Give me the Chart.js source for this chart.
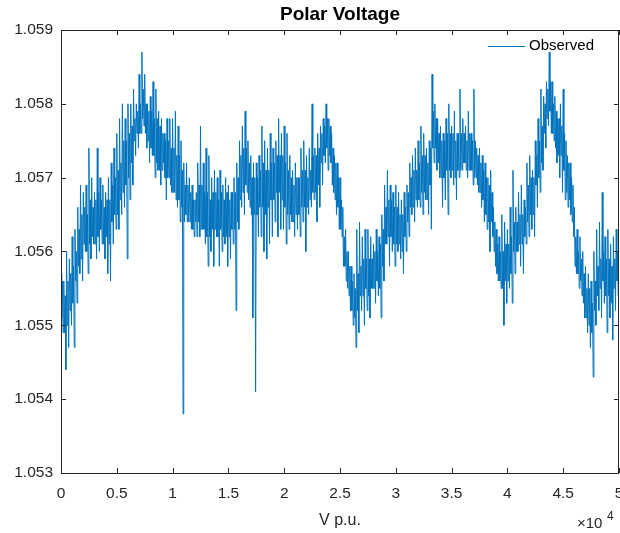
<!DOCTYPE html>
<html>
<head>
<meta charset="utf-8">
<script src="https://cdn.jsdelivr.net/npm/chart.js@4.4.1/dist/chart.umd.min.js"></script>
<style>
  html, body { margin: 0; padding: 0; background: #fff; }
  #wrap { width: 620px; height: 533px; }
</style>
</head>
<body>
<div id="wrap"><canvas id="voltChart" width="620" height="533"></canvas></div>
<script>
// ===== DATA =====
// one reading group every 250 samples: outer peak/trough and the dense inner band
const sampleStep = 250;
const xTicks = [0, 5000, 10000, 15000, 20000, 25000, 30000, 35000, 40000, 45000, 50000];
const yTicks = [1.053, 1.054, 1.055, 1.056, 1.057, 1.058, 1.059];

const upperV = [
  1.0557, 1.0556, 1.0560, 1.0559, 1.0562, 1.0563, 1.0566, 1.0569, 1.0568, 1.0569,
  1.0574, 1.0570, 1.0568, 1.0574, 1.0570, 1.0569, 1.0568, 1.0570, 1.0572, 1.0574,
  1.0576, 1.0578, 1.0580, 1.0578, 1.0580, 1.0580, 1.0582, 1.0580, 1.0584, 1.0587,
  1.0584, 1.0580, 1.0581, 1.0583, 1.0582, 1.0579, 1.0578, 1.0576, 1.0578, 1.0578,
  1.0578, 1.0579, 1.0577, 1.0575, 1.0572, 1.0572, 1.0570, 1.0569, 1.0567, 1.0572,
  1.0577, 1.0572, 1.0574, 1.0573, 1.0570, 1.0571, 1.0570, 1.0571, 1.0569, 1.0570,
  1.0569, 1.0568, 1.0570, 1.0572, 1.0575, 1.0577, 1.0579, 1.0575, 1.0573, 1.0572,
  1.0572, 1.0573, 1.0577, 1.0575, 1.0574, 1.0576, 1.0574, 1.0575, 1.0578, 1.0576,
  1.0577, 1.0576, 1.0573, 1.0571, 1.0572, 1.0570, 1.0574, 1.0575, 1.0573, 1.0574,
  1.0580, 1.0574, 1.0576, 1.0577, 1.0578, 1.0580, 1.0578, 1.0576, 1.0573, 1.0572,
  1.0570, 1.0566, 1.0563, 1.0560, 1.0558, 1.0557, 1.0563, 1.0564, 1.0562, 1.0563,
  1.0563, 1.0562, 1.0561, 1.0563, 1.0562, 1.0565, 1.0569, 1.0571, 1.0569, 1.0568,
  1.0569, 1.0568, 1.0567, 1.0568, 1.0569, 1.0572, 1.0573, 1.0574, 1.0575, 1.0577,
  1.0576, 1.0574, 1.0575, 1.0584, 1.0580, 1.0578, 1.0577, 1.0576, 1.0578, 1.0580,
  1.0577, 1.0579, 1.0576, 1.0582, 1.0578, 1.0577, 1.0579, 1.0576, 1.0582, 1.0574,
  1.0574, 1.0573, 1.0572, 1.0570, 1.0571, 1.0566, 1.0563, 1.0562, 1.0565, 1.0564,
  1.0563, 1.0566, 1.0571, 1.0566, 1.0568, 1.0569, 1.0567, 1.0572, 1.0573, 1.0571,
  1.0575, 1.0578, 1.0582, 1.0581, 1.0583, 1.0587, 1.0583, 1.0581, 1.0578, 1.0580,
  1.0582, 1.0575, 1.0572, 1.0570, 1.0566, 1.0563, 1.0562, 1.0560, 1.0558, 1.0557,
  1.0556, 1.0560, 1.0563, 1.0564, 1.0568, 1.0562, 1.0563, 1.0561, 1.0562, 1.0563,
  1.0560
];

const lowerV = [
  1.0549, 1.0544, 1.0547, 1.0550, 1.0547, 1.0553, 1.0557, 1.0556, 1.0560, 1.0557,
  1.0559, 1.0561, 1.0559, 1.0560, 1.0561, 1.0559, 1.0557, 1.0556, 1.0561, 1.0563,
  1.0563, 1.0565, 1.0566, 1.0559, 1.0567, 1.0569, 1.0573, 1.0574, 1.0576, 1.0577,
  1.0574, 1.0572, 1.0573, 1.0570, 1.0571, 1.0569, 1.0572, 1.0567, 1.0570, 1.0568,
  1.0568, 1.0566, 1.0564, 1.0538, 1.0565, 1.0564, 1.0563, 1.0562, 1.0562, 1.0562,
  1.0563, 1.0561, 1.0558, 1.0560, 1.0558, 1.0562, 1.0558, 1.0560, 1.0561, 1.0558,
  1.0559, 1.0561, 1.0552, 1.0563, 1.0566, 1.0565, 1.0568, 1.0566, 1.0551, 1.0541,
  1.0562, 1.0562, 1.0560, 1.0559, 1.0561, 1.0562, 1.0564, 1.0562, 1.0563, 1.0563,
  1.0561, 1.0563, 1.0564, 1.0562, 1.0563, 1.0562, 1.0564, 1.0560, 1.0565, 1.0566,
  1.0567, 1.0564, 1.0566, 1.0569, 1.0572, 1.0571, 1.0572, 1.0568, 1.0565, 1.0563,
  1.0562, 1.0558, 1.0555, 1.0552, 1.0550, 1.0547, 1.0549, 1.0552, 1.0550, 1.0552,
  1.0551, 1.0555, 1.0553, 1.0554, 1.0551, 1.0556, 1.0561, 1.0558, 1.0560, 1.0558,
  1.0560, 1.0559, 1.0557, 1.0560, 1.0562, 1.0565, 1.0564, 1.0566, 1.0566, 1.0565,
  1.0567, 1.0565, 1.0563, 1.0572, 1.0571, 1.0570, 1.0566, 1.0567, 1.0565, 1.0570,
  1.0569, 1.0567, 1.0570, 1.0571, 1.0572, 1.0570, 1.0571, 1.0569, 1.0570, 1.0568,
  1.0566, 1.0564, 1.0563, 1.0560, 1.0562, 1.0558, 1.0556, 1.0555, 1.0550, 1.0553,
  1.0555, 1.0553, 1.0557, 1.0560, 1.0558, 1.0557, 1.0561, 1.0562, 1.0563, 1.0562,
  1.0566, 1.0568, 1.0571, 1.0574, 1.0577, 1.0576, 1.0575, 1.0572, 1.0570, 1.0568,
  1.0567, 1.0566, 1.0565, 1.0562, 1.0557, 1.0555, 1.0554, 1.0551, 1.0549, 1.0547,
  1.0543, 1.0550, 1.0552, 1.0551, 1.0553, 1.0549, 1.0551, 1.0548, 1.0552, 1.0554,
  1.0553
];

const innerHiV = [
  1.0556, 1.0554, 1.0556, 1.0557, 1.0558, 1.0560, 1.0563, 1.0565, 1.0566, 1.0565,
  1.0567, 1.0566, 1.0567, 1.0568, 1.0567, 1.0566, 1.0567, 1.0567, 1.0569, 1.0570,
  1.0571, 1.0572, 1.0575, 1.0575, 1.0576, 1.0577, 1.0578, 1.0579, 1.0580, 1.0582,
  1.0580, 1.0579, 1.0579, 1.0578, 1.0578, 1.0577, 1.0576, 1.0575, 1.0575, 1.0574,
  1.0574, 1.0573, 1.0573, 1.0571, 1.0569, 1.0569, 1.0568, 1.0567, 1.0568, 1.0569,
  1.0569, 1.0568, 1.0568, 1.0567, 1.0568, 1.0568, 1.0567, 1.0568, 1.0567, 1.0568,
  1.0567, 1.0568, 1.0568, 1.0570, 1.0573, 1.0574, 1.0574, 1.0572, 1.0570, 1.0570,
  1.0570, 1.0571, 1.0572, 1.0571, 1.0571, 1.0572, 1.0572, 1.0573, 1.0573, 1.0573,
  1.0572, 1.0571, 1.0570, 1.0569, 1.0570, 1.0570, 1.0571, 1.0571, 1.0570, 1.0571,
  1.0573, 1.0573, 1.0574, 1.0576, 1.0577, 1.0578, 1.0577, 1.0574, 1.0572, 1.0570,
  1.0567, 1.0562, 1.0560, 1.0558, 1.0556, 1.0555, 1.0557, 1.0558, 1.0559, 1.0559,
  1.0559, 1.0559, 1.0560, 1.0560, 1.0561, 1.0563, 1.0566, 1.0567, 1.0567, 1.0566,
  1.0566, 1.0565, 1.0565, 1.0566, 1.0568, 1.0570, 1.0571, 1.0571, 1.0572, 1.0573,
  1.0573, 1.0572, 1.0574, 1.0579, 1.0578, 1.0576, 1.0575, 1.0575, 1.0576, 1.0576,
  1.0576, 1.0575, 1.0576, 1.0576, 1.0576, 1.0575, 1.0576, 1.0575, 1.0575, 1.0573,
  1.0572, 1.0571, 1.0570, 1.0569, 1.0568, 1.0564, 1.0561, 1.0560, 1.0560, 1.0561,
  1.0561, 1.0562, 1.0564, 1.0564, 1.0565, 1.0565, 1.0566, 1.0569, 1.0570, 1.0570,
  1.0573, 1.0575, 1.0577, 1.0580, 1.0582, 1.0583, 1.0580, 1.0579, 1.0578, 1.0577,
  1.0576, 1.0573, 1.0572, 1.0569, 1.0562, 1.0560, 1.0559, 1.0557, 1.0555, 1.0555,
  1.0553, 1.0556, 1.0558, 1.0559, 1.0560, 1.0559, 1.0559, 1.0558, 1.0559, 1.0560,
  1.0558
];

const innerLoV = [
  1.0551, 1.0549, 1.0550, 1.0552, 1.0553, 1.0556, 1.0558, 1.0559, 1.0561, 1.0560,
  1.0561, 1.0562, 1.0561, 1.0562, 1.0563, 1.0561, 1.0562, 1.0561, 1.0564, 1.0565,
  1.0565, 1.0567, 1.0568, 1.0569, 1.0570, 1.0572, 1.0575, 1.0576, 1.0576, 1.0578,
  1.0576, 1.0575, 1.0574, 1.0573, 1.0572, 1.0571, 1.0571, 1.0570, 1.0570, 1.0569,
  1.0568, 1.0567, 1.0567, 1.0566, 1.0564, 1.0564, 1.0564, 1.0563, 1.0564, 1.0564,
  1.0563, 1.0563, 1.0562, 1.0562, 1.0563, 1.0563, 1.0562, 1.0563, 1.0562, 1.0562,
  1.0562, 1.0563, 1.0563, 1.0564, 1.0567, 1.0568, 1.0569, 1.0567, 1.0565, 1.0565,
  1.0565, 1.0566, 1.0566, 1.0565, 1.0566, 1.0567, 1.0567, 1.0568, 1.0568, 1.0567,
  1.0566, 1.0565, 1.0565, 1.0564, 1.0565, 1.0565, 1.0566, 1.0566, 1.0566, 1.0567,
  1.0568, 1.0568, 1.0569, 1.0572, 1.0573, 1.0574, 1.0573, 1.0569, 1.0567, 1.0566,
  1.0563, 1.0558, 1.0556, 1.0554, 1.0552, 1.0551, 1.0552, 1.0554, 1.0554, 1.0555,
  1.0554, 1.0555, 1.0555, 1.0556, 1.0555, 1.0558, 1.0561, 1.0562, 1.0562, 1.0561,
  1.0561, 1.0561, 1.0560, 1.0562, 1.0564, 1.0566, 1.0566, 1.0567, 1.0567, 1.0568,
  1.0568, 1.0567, 1.0569, 1.0574, 1.0574, 1.0572, 1.0570, 1.0570, 1.0571, 1.0571,
  1.0571, 1.0570, 1.0571, 1.0571, 1.0572, 1.0571, 1.0571, 1.0571, 1.0570, 1.0569,
  1.0568, 1.0567, 1.0565, 1.0564, 1.0564, 1.0560, 1.0557, 1.0556, 1.0555, 1.0556,
  1.0556, 1.0557, 1.0560, 1.0560, 1.0561, 1.0561, 1.0562, 1.0564, 1.0565, 1.0565,
  1.0569, 1.0570, 1.0572, 1.0576, 1.0578, 1.0579, 1.0576, 1.0574, 1.0573, 1.0573,
  1.0571, 1.0568, 1.0567, 1.0564, 1.0558, 1.0557, 1.0556, 1.0553, 1.0551, 1.0550,
  1.0549, 1.0552, 1.0554, 1.0555, 1.0556, 1.0554, 1.0554, 1.0553, 1.0555, 1.0556,
  1.0555
];

// interleave the readings into one trace: peak, inner low, inner high, trough
const observed = [];
for (let i = 0; i < upperV.length; i++) {
  const x0 = i * sampleStep;
  observed.push({ x: x0, y: upperV[i] });
  if (i === upperV.length - 1) break;
  observed.push({ x: x0 + sampleStep * 0.25, y: innerLoV[i] });
  observed.push({ x: x0 + sampleStep * 0.5, y: innerHiV[i] });
  observed.push({ x: x0 + sampleStep * 0.75, y: lowerV[i] });
}

const LINE_BLUE = '#0072BD';
const AXIS_COL = '#262626';
const FONT = '"Liberation Sans", Arial, Helvetica, sans-serif';

// box, inward ticks, title, legend, exponent label (MATLAB look)
const matlabFrame = {
  id: 'matlabFrame',
  afterDraw(chart) {
    const { ctx, chartArea: a, scales } = chart;
    ctx.save();
    ctx.strokeStyle = AXIS_COL;
    ctx.lineWidth = 1;
    ctx.strokeRect(Math.round(a.left) + 0.5, Math.round(a.top) + 0.5,
      Math.round(a.right - a.left) - 1, Math.round(a.bottom - a.top));
    const tl = 5;
    ctx.beginPath();
    xTicks.forEach(v => {
      const px = Math.round(scales.x.getPixelForValue(v)) + 0.5;
      ctx.moveTo(px, a.bottom); ctx.lineTo(px, a.bottom - tl);
      ctx.moveTo(px, a.top); ctx.lineTo(px, a.top + tl);
    });
    yTicks.forEach(v => {
      const py = Math.round(scales.y.getPixelForValue(v)) + 0.5;
      ctx.moveTo(a.left, py); ctx.lineTo(a.left + tl, py);
      ctx.moveTo(a.right, py); ctx.lineTo(a.right - tl, py);
    });
    ctx.stroke();

    // title, centred over the axes
    ctx.fillStyle = '#000';
    ctx.font = 'bold 19px ' + FONT;
    ctx.textAlign = 'center';
    ctx.textBaseline = 'middle';
    ctx.fillText('Polar Voltage', (a.left + a.right) / 2, 15);

    // legend
    ctx.strokeStyle = LINE_BLUE;
    ctx.beginPath();
    ctx.moveTo(488, 46.5); ctx.lineTo(525, 46.5);
    ctx.stroke();
    ctx.font = '15px ' + FONT;
    ctx.textAlign = 'left';
    ctx.fillText(chart.data.datasets[0].label, 529, 46);

    // x10^4
    ctx.fillStyle = AXIS_COL;
    ctx.font = '15px ' + FONT;
    ctx.textBaseline = 'alphabetic';
    ctx.fillText('\u00d710', 577, 528);
    ctx.font = '12px ' + FONT;
    ctx.fillText('4', 607, 520);
    ctx.restore();
  }
};

new Chart(document.getElementById('voltChart'), {
  type: 'line',
  data: {
    datasets: [{
      label: 'Observed',
      data: observed,
      borderColor: LINE_BLUE,
      borderWidth: 1,
      pointRadius: 0,
      tension: 0,
      fill: false
    }]
  },
  options: {
    responsive: false,
    animation: false,
    devicePixelRatio: 1,
    layout: { padding: { left: 0, right: 1, top: 30, bottom: 0 } },
    plugins: {
      legend: { display: false },
      tooltip: { enabled: false },
      title: { display: false }
    },
    scales: {
      x: {
        type: 'linear',
        min: 0,
        max: 50000,
        afterBuildTicks: s => { s.ticks = xTicks.map(v => ({ value: v })); },
        afterFit: s => { s.height = 60; s.paddingLeft = 0; s.paddingRight = 0; },
        grid: { display: false, drawTicks: false },
        border: { display: false },
        ticks: {
          color: AXIS_COL,
          padding: 11,
          maxRotation: 0,
          font: { family: FONT, size: 15.5 },
          callback: v => String(v / 10000)
        },
        title: {
          display: true,
          text: 'V p.u.',
          color: AXIS_COL,
          font: { family: FONT, size: 16 },
          padding: { top: 0, bottom: 3 }
        }
      },
      y: {
        min: 1.053,
        max: 1.059,
        afterBuildTicks: s => { s.ticks = yTicks.map(v => ({ value: v })); },
        afterFit: s => { s.width = 61; s.paddingTop = 0; s.paddingBottom = 0; },
        grid: { display: false, drawTicks: false },
        border: { display: false },
        ticks: {
          color: AXIS_COL,
          padding: 8,
          font: { family: FONT, size: 15.5 },
          callback: v => Number(v).toFixed(3)
        }
      }
    }
  },
  plugins: [matlabFrame]
});
</script>
</body>
</html>
